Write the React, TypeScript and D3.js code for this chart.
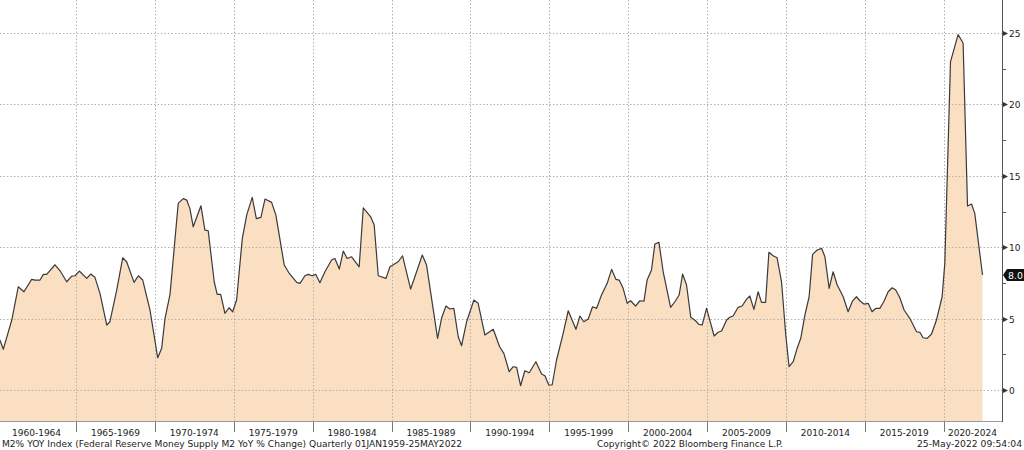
import React from "react";
import * as d3 from "d3";

// Decimal-year positions and M2 YoY % values
const years = [
  1960.18, 1960.39, 1960.93, 1961.34, 1961.70, 1962.19, 1962.40, 1962.72, 1962.93, 1963.14,
  1963.67, 1963.99, 1964.41, 1964.73, 1964.94, 1965.21, 1965.68, 1965.93, 1966.20, 1966.52,
  1966.95, 1967.15, 1967.58, 1967.96, 1968.21, 1968.68, 1968.95, 1969.23, 1969.69, 1970.18,
  1970.43, 1970.64, 1970.96, 1971.48, 1971.80, 1972.02, 1972.22, 1972.43, 1972.92, 1973.17,
  1973.38, 1973.76, 1973.95, 1974.17, 1974.44, 1974.70, 1974.93, 1975.18, 1975.54, 1975.82,
  1976.17, 1976.43, 1976.72, 1976.98, 1977.40, 1977.67, 1978.20, 1978.52, 1978.99, 1979.20,
  1979.51, 1979.72, 1979.97, 1980.19, 1980.46, 1980.78, 1981.20, 1981.41, 1981.69, 1981.94,
  1982.19, 1982.47, 1982.95, 1983.21, 1983.68, 1983.90, 1984.16, 1984.65, 1984.90, 1985.42,
  1985.70, 1986.21, 1986.48, 1986.95, 1987.22, 1987.92, 1988.17, 1988.45, 1988.70, 1988.95,
  1989.23, 1989.44, 1989.76, 1990.22, 1990.49, 1990.92, 1991.45, 1991.85, 1992.12, 1992.46,
  1992.71, 1992.93, 1993.18, 1993.45, 1993.73, 1994.15, 1994.51, 1994.72, 1994.97, 1995.18,
  1995.46, 1995.88, 1996.20, 1996.69, 1996.94, 1997.19, 1997.47, 1997.74, 1998.00, 1998.31,
  1998.67, 1998.95, 1999.22, 1999.43, 1999.68, 1999.94, 2000.15, 2000.47, 2000.74, 2001.00,
  2001.20, 2001.48, 2001.69, 2001.95, 2002.22, 2002.69, 2002.96, 2003.23, 2003.45, 2003.70,
  2003.97, 2004.27, 2004.48, 2004.69, 2004.97, 2005.45, 2005.70, 2005.92, 2006.24, 2006.44,
  2006.65, 2006.97, 2007.22, 2007.50, 2007.71, 2007.97, 2008.24, 2008.45, 2008.71, 2008.92,
  2009.19, 2009.44, 2009.72, 2009.99, 2010.20, 2010.46, 2010.71, 2010.94, 2011.20, 2011.47,
  2011.69, 2011.98, 2012.26, 2012.47, 2012.74, 2012.99, 2013.25, 2013.63, 2013.94, 2014.22,
  2014.47, 2014.68, 2014.94, 2015.21, 2015.46, 2015.70, 2015.95, 2016.20, 2016.48, 2016.73,
  2016.96, 2017.22, 2017.49, 2017.85, 2018.28, 2018.49, 2018.69, 2018.95, 2019.23, 2019.54,
  2019.90, 2020.07, 2020.43, 2020.91, 2021.23, 2021.51, 2021.76, 2021.97, 2022.46,
];

const m2yoy = [
  3.5, 2.85, 4.9, 7.23, 6.88, 7.75, 7.7, 7.7, 8.1, 8.1,
  8.77, 8.35, 7.58, 7.98, 8.0, 8.33, 7.82, 8.12, 7.89, 6.77,
  4.55, 4.78, 7.0, 9.26, 8.98, 7.54, 8.0, 7.7, 5.6, 2.26,
  2.92, 5.0, 6.7, 13.07, 13.4, 13.3, 12.7, 11.43, 12.9, 11.2,
  11.15, 7.58, 6.7, 6.7, 5.37, 5.76, 5.48, 6.3, 10.6, 12.25,
  13.49, 12.0, 12.09, 13.37, 13.14, 12.25, 8.75, 8.16, 7.54, 7.47,
  8.0, 8.1, 8.0, 8.1, 7.51, 8.28, 9.1, 9.21, 8.47, 9.73,
  9.21, 9.33, 8.63, 12.76, 12.13, 11.55, 8.0, 7.82, 8.63, 8.98,
  9.4, 7.07, 7.93, 9.45, 8.75, 3.62, 5.02, 5.88, 5.67, 5.72,
  3.73, 3.1, 4.78, 6.3, 6.07, 3.85, 4.25, 3.03, 2.57, 1.28,
  1.63, 1.59, 0.3, 1.35, 1.21, 1.98, 1.12, 1.0, 0.35, 0.35,
  2.1, 3.97, 5.55, 4.25, 5.18, 4.78, 4.97, 5.83, 5.72, 6.65,
  7.47, 8.45, 7.75, 7.7, 7.12, 6.07, 6.25, 5.88, 6.25, 6.23,
  7.7, 8.4, 10.22, 10.34, 8.28, 5.79, 6.18, 6.65, 8.12, 7.35,
  5.09, 4.85, 4.6, 4.55, 5.72, 3.78, 4.04, 4.13, 4.9, 5.09,
  5.18, 5.79, 5.88, 6.35, 6.58, 5.65, 6.88, 6.14, 6.14, 9.64,
  9.4, 9.26, 7.58, 3.85, 1.63, 1.98, 2.92, 3.62, 5.25, 6.53,
  9.5, 9.8, 9.92, 9.33, 7.12, 8.28, 7.35, 6.53, 5.48, 6.23,
  6.53, 6.25, 6.02, 6.07, 5.48, 5.72, 5.72, 6.18, 6.88, 7.16,
  7.0, 6.46, 5.6, 5.02, 4.08, 4.04, 3.66, 3.62, 3.92, 4.9,
  6.53, 8.87, 22.98, 24.89, 24.3, 12.88, 13.02, 12.37, 8.05,
];

const lastValueLabel = "8.0";
const yTicks = [0, 5, 10, 15, 20, 25];
const yMinorTicks = [2.5, 7.5, 12.5, 17.5, 22.5];
const periodStarts = [1960, 1965, 1970, 1975, 1980, 1985, 1990, 1995, 2000, 2005, 2010, 2015, 2020];
const periodLabels = [
  "1960-1964", "1965-1969", "1970-1974", "1975-1979", "1980-1984", "1985-1989", "1990-1994",
  "1995-1999", "2000-2004", "2005-2009", "2010-2014", "2015-2019", "2020-2024",
];
const footerLeft = "M2% YOY Index (Federal Reserve Money Supply M2 YoY % Change)  Quarterly 01JAN1959-25MAY2022";
const footerMid = "Copyright\u00A9 2022 Bloomberg Finance L.P.";
const footerRight = "25-May-2022 09:54:04";

const W = 1024;
const H = 450;
const plotRight = 1002;
const plotBottom = 421;
const FONT = "'DejaVu Sans', Verdana, sans-serif";

export default function App() {
  const x = d3.scaleLinear().domain([1965, 2020]).range([76, 943.7]);
  const y = d3.scaleLinear().domain([0, 25]).range([390, 33]);

  const pts = years.map((yr, i) => [yr, m2yoy[i]] as [number, number]);
  const area = d3
    .area<[number, number]>()
    .x((d) => x(d[0]))
    .y0(plotBottom)
    .y1((d) => y(d[1]));
  const line = d3
    .line<[number, number]>()
    .x((d) => x(d[0]))
    .y((d) => y(d[1]));

  const lastY = y(m2yoy[m2yoy.length - 1]);

  return (
    <svg
      width={W}
      height={H}
      style={{ position: "absolute", left: 0, top: 0, display: "block", background: "#fff" }}
      fontFamily={FONT}
    >
      <defs>
        <clipPath id="plotclip">
          <rect x={0} y={0} width={plotRight} height={plotBottom} />
        </clipPath>
      </defs>
      <rect x={0} y={0} width={W} height={H} fill="#fff" />
      <g clipPath="url(#plotclip)">
        <path d={area(pts) || ""} fill="#fbdfc3" stroke="none" />
        {yTicks.map((t) => (
          <line
            key={"hg" + t}
            x1={0}
            x2={plotRight}
            y1={Math.round(y(t)) + 0.5}
            y2={Math.round(y(t)) + 0.5}
            stroke="#b0b0b0"
            strokeWidth={1}
            strokeDasharray="1.5,2"
          />
        ))}
        {periodStarts
          .filter((p) => x(p) > 0)
          .map((p) => (
            <line
              key={"vg" + p}
              x1={Math.round(x(p)) + 0.5}
              x2={Math.round(x(p)) + 0.5}
              y1={0}
              y2={plotBottom}
              stroke="#b0b0b0"
              strokeWidth={1}
              strokeDasharray="1.5,2"
            />
          ))}
        <path d={line(pts) || ""} fill="none" stroke="#3a3a3a" strokeWidth={1.2} strokeLinejoin="round" />
      </g>

      {/* bottom axis */}
      <line x1={0} x2={plotRight} y1={plotBottom + 0.5} y2={plotBottom + 0.5} stroke="#9a9a9a" strokeWidth={1} />
      {periodStarts
        .filter((p) => x(p) > 0)
        .map((p) => (
          <line
            key={"bt" + p}
            x1={Math.round(x(p)) + 0.5}
            x2={Math.round(x(p)) + 0.5}
            y1={plotBottom + 1}
            y2={plotBottom + 11}
            stroke="#777"
            strokeWidth={1}
          />
        ))}
      {periodStarts.map((p, i) => {
        const mid = (x(p) + x(p + 5)) / 2;
        const clamp = mid + 26 > plotRight;
        return (
          <text
            key={"bl" + p}
            x={clamp ? plotRight - 5 : mid}
            y={436}
            textAnchor={clamp ? "end" : "middle"}
            fontSize={9}
            fill="#222"
          >
            {periodLabels[i]}
          </text>
        );
      })}

      {/* right axis */}
      <line x1={plotRight + 0.5} x2={plotRight + 0.5} y1={0} y2={plotBottom + 1} stroke="#555" strokeWidth={1} />
      {yMinorTicks.map((t) => (
        <line
          key={"mt" + t}
          x1={plotRight + 1}
          x2={plotRight + 4}
          y1={Math.round(y(t)) + 0.5}
          y2={Math.round(y(t)) + 0.5}
          stroke="#555"
          strokeWidth={1}
        />
      ))}
      {yTicks.map((t) => {
        const ty = Math.round(y(t)) + 0.5;
        return (
          <g key={"yt" + t}>
            <path
              d={`M${plotRight + 1},${ty - 2.5} L${plotRight + 6},${ty} L${plotRight + 1},${ty + 2.5} Z`}
              fill="#333"
            />
            <text x={plotRight + 7} y={ty + 3.5} fontSize={9} fill="#222">
              {String(t)}
            </text>
          </g>
        );
      })}

      {/* last value tag */}
      <path
        d={`M${plotRight + 1},${lastY} L${plotRight + 5},${lastY - 6} L${W},${lastY - 6} L${W},${lastY + 6} L${plotRight + 5},${lastY + 6} Z`}
        fill="#111"
      />
      <text
        x={plotRight + 6}
        y={lastY + 3.5}
        fontSize={9}
        fill="#fff"
        textLength={15}
        lengthAdjust="spacingAndGlyphs"
      >
        {lastValueLabel}
      </text>

      {/* footer */}
      <text x={2} y={447} fontSize={9} fill="#222" textLength={460} lengthAdjust="spacingAndGlyphs">
        {footerLeft}
      </text>
      <text x={597} y={447} fontSize={9} fill="#222" textLength={186} lengthAdjust="spacingAndGlyphs">
        {footerMid}
      </text>
      <text x={917} y={447} fontSize={9} fill="#222" textLength={105} lengthAdjust="spacingAndGlyphs">
        {footerRight}
      </text>
    </svg>
  );
}
